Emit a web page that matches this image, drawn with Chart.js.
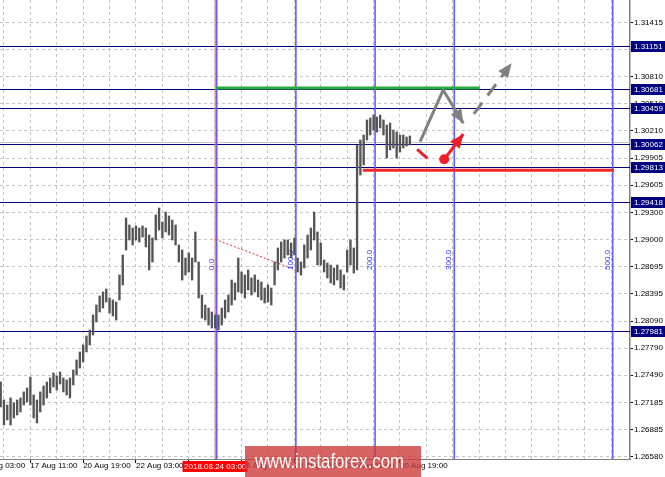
<!DOCTYPE html>
<html>
<head>
<meta charset="utf-8">
<script src="https://cdn.jsdelivr.net/npm/chart.js@4.4.1/dist/chart.umd.min.js"></script>
<style>
html, body { margin: 0; padding: 0; background: #fff; }
#wrap { position: relative; width: 665px; height: 477px; }
</style>
</head>
<body>
<div id="wrap"><canvas id="chart"></canvas></div>
<script>
// H2 bars, index of the first visible bar
const firstBar = -1;
const highs = [
    1.27414, 1.27213, 1.27157, 1.27236, 1.27180, 1.27213, 1.27236, 1.27303, 1.27347, 1.27469,
    1.27269, 1.27213, 1.27303, 1.27369, 1.27414, 1.27458, 1.27514, 1.27481, 1.27525, 1.27458,
    1.27436, 1.27458, 1.27547, 1.27659, 1.27748, 1.27826, 1.27926, 1.27993, 1.28160, 1.28271,
    1.28371, 1.28416, 1.28449, 1.28349, 1.28327, 1.28304, 1.28605, 1.28828, 1.29240, 1.29162,
    1.29128, 1.29151, 1.29128, 1.29151, 1.29128, 1.29050, 1.29017, 1.29273, 1.29351, 1.29195,
    1.29306, 1.29262, 1.29217, 1.29162, 1.28939, 1.28883, 1.28794, 1.28850, 1.28794, 1.29084,
    1.28750, 1.28382, 1.28271, 1.28237, 1.28193, 1.28160, 1.28160, 1.28237, 1.28327, 1.28382,
    1.28549, 1.28516, 1.28794, 1.28638, 1.28605, 1.28661, 1.28572, 1.28605, 1.28549, 1.28527,
    1.28460, 1.28494, 1.28460, 1.28750, 1.28906, 1.28972, 1.28995, 1.28995, 1.28961, 1.29017,
    1.28794, 1.28750, 1.28939, 1.29050, 1.29128, 1.29306, 1.29084, 1.28961, 1.28772, 1.28739,
    1.28716, 1.28683, 1.28716, 1.28661, 1.28605, 1.28883, 1.28995, 1.28906, 1.30052, 1.30108,
    1.30164, 1.30331, 1.30353, 1.30386, 1.30364, 1.30386, 1.30331, 1.30275, 1.30297, 1.30219,
    1.30197, 1.30164, 1.30164, 1.30141, 1.30153
];
const lows = [
    1.27135, 1.26935, 1.26991, 1.26935, 1.27013, 1.27046, 1.27080, 1.27157, 1.27191, 1.27157,
    1.27013, 1.26958, 1.27080, 1.27157, 1.27236, 1.27292, 1.27358, 1.27325, 1.27391, 1.27303,
    1.27269, 1.27236, 1.27380, 1.27491, 1.27569, 1.27637, 1.27748, 1.27826, 1.27937, 1.28082,
    1.28193, 1.28237, 1.28304, 1.28182, 1.28148, 1.28104, 1.28327, 1.28494, 1.28883, 1.28995,
    1.28939, 1.28995, 1.28972, 1.29028, 1.28917, 1.28661, 1.28750, 1.28995, 1.29106, 1.29017,
    1.29084, 1.29050, 1.28995, 1.28939, 1.28750, 1.28549, 1.28605, 1.28638, 1.28549, 1.28750,
    1.28349, 1.28126, 1.28104, 1.28048, 1.28015, 1.28015, 1.27993, 1.28048, 1.28126, 1.28193,
    1.28271, 1.28327, 1.28416, 1.28404, 1.28349, 1.28438, 1.28382, 1.28416, 1.28360, 1.28327,
    1.28293, 1.28304, 1.28271, 1.28494, 1.28661, 1.28750, 1.28794, 1.28828, 1.28794, 1.28828,
    1.28638, 1.28605, 1.28683, 1.28794, 1.28883, 1.28995, 1.28716, 1.28716, 1.28638, 1.28572,
    1.28516, 1.28494, 1.28549, 1.28460, 1.28438, 1.28638, 1.28716, 1.28627, 1.28661, 1.29718,
    1.29830, 1.30108, 1.30164, 1.30219, 1.30197, 1.30242, 1.30164, 1.29908, 1.29997, 1.30019,
    1.29908, 1.29975, 1.30019, 1.30041, 1.30052
];

// axes
const yTicks = [1.26580, 1.26885, 1.27185, 1.27490, 1.27790, 1.28090, 1.28395, 1.28695, 1.29000,
    1.29300, 1.29605, 1.29905, 1.30210, 1.30510, 1.30810, 1.31115, 1.31415];
const xTickBars = [-8, 8, 24, 40, 56, 72, 88, 104, 120];
const xTickLabels = ['16 Aug 03:00', '17 Aug 11:00', '20 Aug 19:00', '22 Aug 03:00', '23 Aug 11:00',
    '24 Aug 19:00', '28 Aug 03:00', '29 Aug 11:00', '30 Aug 19:00'];

// horizontal levels (navy) and the bid line
const levels = [1.31151, 1.30681, 1.30459, 1.30062, 1.29813, 1.29418, 1.27981];
const bidPrice = 1.30091;

// fibo time lines
const fibBars = [64, 88, 112, 136, 184];
const fibLabels = ['0.0', '100.0', '200.0', '300.0', '500.0'];
const fibTrendX = [64, 88];
const fibTrendY = [1.29002, 1.28667];
const markerBar = 64;
const markerLabel = '2018.08.24 03:00';

// drawings
const greenX = [64.2, 144.2], greenY = [1.30688, 1.30688];
const redX = [108.7, 184.8], redY = [1.29771, 1.29771];
const greyPathX = [126.1, 133.1, 139.2], greyPathY = [1.30089, 1.30665, 1.30294];
const greyDashX = [142.4, 153.8], greyDashY = [1.30398, 1.30962];
const redDashX = [125.2, 128.3], redDashY = [1.30005, 1.29904];
const redArrowX = [133.4, 139.2], redArrowY = [1.29893, 1.30175];

const pts = (xs, ys) => xs.map((x, i) => ({ x: x, y: ys[i] }));
const FONT = "'Liberation Sans', Arial, sans-serif";

const drawingsPlugin = {
    id: 'drawings',
    beforeDatasetsDraw(chart) {
        const { ctx, chartArea: a, scales: { x, y } } = chart;
        ctx.save();
        ctx.beginPath();
        ctx.rect(a.left, a.top, a.right - a.left, a.bottom - a.top);
        ctx.clip();

        // bid line
        const by = Math.round(y.getPixelForValue(bidPrice)) + 0.5;
        ctx.strokeStyle = '#c8c8c8';
        ctx.lineWidth = 1;
        ctx.beginPath(); ctx.moveTo(a.left, by); ctx.lineTo(a.right, by); ctx.stroke();

        // navy levels
        ctx.strokeStyle = '#000080';
        levels.forEach(l => {
            const py = Math.round(y.getPixelForValue(l)) + 0.5;
            ctx.beginPath(); ctx.moveTo(a.left, py); ctx.lineTo(a.right, py); ctx.stroke();
        });

        // date marker
        const mx = x.getPixelForValue(markerBar);
        ctx.strokeStyle = 'rgb(255,110,110)';
        ctx.lineWidth = 1.2;
        ctx.beginPath(); ctx.moveTo(mx, a.top); ctx.lineTo(mx, a.bottom); ctx.stroke();

        // fibo time lines
        ctx.strokeStyle = 'rgb(95,95,255)';
        ctx.lineWidth = 1.6;
        fibBars.forEach(b => {
            const px = x.getPixelForValue(b) + 1.5;
            ctx.beginPath(); ctx.moveTo(px, a.top); ctx.lineTo(px, a.bottom); ctx.stroke();
        });

        // fibo trend line
        ctx.strokeStyle = 'rgb(240,50,50)';
        ctx.lineWidth = 1;
        ctx.setLineDash([2, 2]);
        ctx.beginPath();
        ctx.moveTo(x.getPixelForValue(fibTrendX[0]), y.getPixelForValue(fibTrendY[0]));
        ctx.lineTo(x.getPixelForValue(fibTrendX[1]), y.getPixelForValue(fibTrendY[1]));
        ctx.stroke();
        ctx.setLineDash([]);

        // fibo labels, vertical
        ctx.fillStyle = 'rgb(50,50,255)';
        ctx.font = '8px ' + FONT;
        ctx.textAlign = 'left';
        ctx.textBaseline = 'bottom';
        fibBars.forEach((b, i) => {
            const px = x.getPixelForValue(b) + 0.5;
            ctx.save();
            ctx.translate(px, 270);
            ctx.rotate(-Math.PI / 2);
            ctx.fillText(fibLabels[i], 0, 0);
            ctx.restore();
        });
        ctx.restore();
    },
    afterDatasetsDraw(chart) {
        const { ctx } = chart;
        chart.data.datasets.forEach((ds, i) => {
            if (!ds.arrowHead) return;
            const pts = chart.getDatasetMeta(i).data;
            const p1 = pts[pts.length - 2], p2 = pts[pts.length - 1];
            const ang = Math.atan2(p2.y - p1.y, p2.x - p1.x);
            const len = 14, half = 6;
            ctx.save();
            ctx.fillStyle = ds.borderColor;
            ctx.translate(p2.x, p2.y);
            ctx.rotate(ang);
            ctx.beginPath();
            ctx.moveTo(0, 0);
            ctx.lineTo(-len, -half);
            ctx.lineTo(-len, half);
            ctx.closePath();
            ctx.fill();
            ctx.restore();
        });
    },
    afterDraw(chart) {
        const { ctx, chartArea: a, scales: { x, y } } = chart;
        ctx.save();
        ctx.font = '8px ' + FONT;
        ctx.textBaseline = 'middle';
        ctx.textAlign = 'left';
        // level boxes on the price axis
        levels.forEach(l => {
            const py = Math.round(y.getPixelForValue(l));
            ctx.fillStyle = '#000080';
            ctx.fillRect(a.right + 1, py - 5, 36, 11);
            ctx.fillStyle = '#fff';
            ctx.fillText(l.toFixed(5), a.right + 4, py + 0.5);
        });
        // date box
        const mx = x.getPixelForValue(markerBar);
        ctx.textAlign = 'center';
        const w = ctx.measureText(markerLabel).width + 3;
        ctx.fillStyle = '#ff0000';
        ctx.fillRect(mx - w / 2, a.bottom + 2, w, 11);
        ctx.fillStyle = '#fff';
        ctx.fillText(markerLabel, mx, a.bottom + 8);

        // watermark
        ctx.fillStyle = 'rgba(205,55,55,0.78)';
        ctx.fillRect(245, 446, 176, 31);
        ctx.fillStyle = '#fff';
        ctx.font = '20px ' + FONT;
        ctx.textAlign = 'left';
        ctx.textBaseline = 'alphabetic';
        const tw = ctx.measureText('www.instaforex.com').width;
        ctx.translate(255, 468);
        ctx.scale(149 / tw, 1);
        ctx.fillText('www.instaforex.com', 0, 0);
        ctx.restore();
    }
};

const lineDs = (xs, ys, color, width, extra) => Object.assign({
    type: 'line',
    data: pts(xs, ys),
    borderColor: color,
    backgroundColor: color,
    borderWidth: width,
    pointRadius: 0,
    fill: false,
    tension: 0,
    order: 0
}, extra || {});

new Chart(document.getElementById('chart'), {
    type: 'bar',
    data: {
        datasets: [
            lineDs(greenX, greenY, 'rgb(40,170,60)', 3),
            lineDs(redX, redY, 'rgb(240,40,40)', 3),
            lineDs(greyPathX, greyPathY, 'rgb(128,128,128)', 3, { arrowHead: true }),
            lineDs(greyDashX, greyDashY, 'rgb(128,128,128)', 3, { arrowHead: true, borderDash: [14, 9] }),
            lineDs(redDashX, redDashY, 'rgb(240,30,40)', 3),
            lineDs(redArrowX, redArrowY, 'rgb(240,30,40)', 3, {
                arrowHead: true, pointRadius: [5, 0], pointBorderWidth: 0
            }),
            {
                type: 'bar',
                data: highs.map((h, i) => ({ x: firstBar + i, y: [lows[i], h] })),
                backgroundColor: '#555555',
                borderWidth: 0,
                barThickness: 1.7,
                grouped: false,
                order: 10
            }
        ]
    },
    options: {
        responsive: true,
        maintainAspectRatio: false,
        animation: false,
        events: [],
        layout: { padding: 0, autoPadding: false },
        font: { family: FONT, size: 8 },
        plugins: { legend: { display: false }, tooltip: { enabled: false } },
        scales: {
            x: {
                type: 'linear',
                position: 'bottom',
                min: -1.2,
                max: 189.7,
                offset: false,
                grid: {
                    offset: false,
                    color: '#c4c4c4',
                    tickLength: 4,
                    tickColor: c => (c.tick && xTickBars.includes(c.tick.value)) ? '#000' : 'rgba(0,0,0,0)'
                },
                border: { color: '#808080', width: 1, dash: [3, 3] },
                afterBuildTicks: s => {
                    const t = [];
                    for (let v = -8; v <= 184; v += 8) t.push({ value: v });
                    s.ticks = t;
                },
                afterFit: s => {
                    s.height = 18;
                    s.paddingLeft = 0;
                    s.paddingRight = 0;
                },
                ticks: {
                    autoSkip: false,
                    maxRotation: 0,
                    align: 'start',
                    padding: -2,
                    color: '#000',
                    font: { family: FONT, size: 8 },
                    callback: v => {
                        const k = xTickBars.indexOf(v);
                        return k >= 0 ? xTickLabels[k] : '';
                    }
                }
            },
            y: {
                type: 'linear',
                position: 'right',
                min: 1.26556,
                max: 1.31667,
                grid: { color: '#c4c4c4', tickLength: 3, tickColor: '#000' },
                border: { color: '#808080', width: 1.5, dash: [3, 3] },
                afterBuildTicks: s => { s.ticks = yTicks.map(v => ({ value: v })); },
                afterFit: s => {
                    s.width = 35;
                    s.paddingTop = 0;
                    s.paddingBottom = 0;
                },
                ticks: {
                    autoSkip: false,
                    padding: 1,
                    color: '#000',
                    font: { family: FONT, size: 8 },
                    callback: v => Number(v).toFixed(5)
                }
            }
        }
    },
    plugins: [drawingsPlugin]
});
</script>
</body>
</html>
